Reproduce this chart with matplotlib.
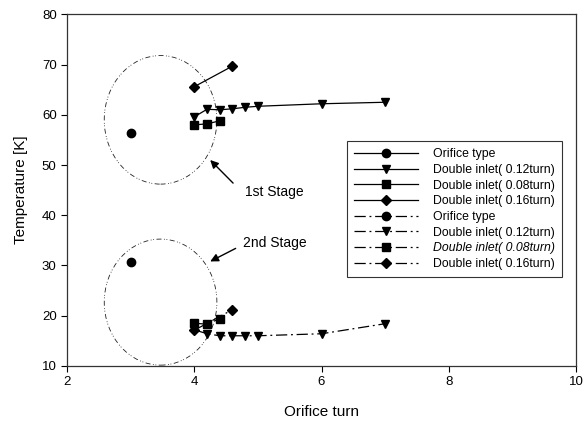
import matplotlib
matplotlib.use("Agg")
import matplotlib.pyplot as plt
from matplotlib.patches import Ellipse

plt.rcParams["font.family"] = ["Liberation Sans", "DejaVu Sans"]

# orifice type: single point per stage
orifice_x = [3.0]
orifice_1st = [56.3]
orifice_2nd = [30.7]

# double inlet 0.12 turn
di012_x = [4.0, 4.2, 4.4, 4.6, 4.8, 5.0, 6.0, 7.0]
di012_1st = [59.6, 61.1, 61.0, 61.2, 61.5, 61.7, 62.2, 62.5]
di012_2nd = [17.2, 16.4, 16.0, 16.0, 16.0, 16.0, 16.4, 18.4]

# double inlet 0.08 turn
di008_x = [4.0, 4.2, 4.4]
di008_1st = [58.0, 58.2, 58.8]
di008_2nd = [18.5, 18.3, 19.4]

# double inlet 0.16 turn
di016_x = [4.0, 4.6]
di016_1st = [65.6, 69.7]
di016_2nd = [17.1, 21.2]

labels = ["Orifice type", "Double inlet( 0.12turn)", "Double inlet( 0.08turn)",
          "Double inlet( 0.16turn)"]

fig = plt.figure(figsize=(5.83, 4.23), dpi=100)
ax = fig.add_axes([0.115, 0.135, 0.873, 0.831])

dashdot = (0, (9, 3, 1.5, 3))
series = [
    (orifice_x, orifice_1st, orifice_2nd, "o", 6),
    (di012_x, di012_1st, di012_2nd, "v", 5.5),
    (di008_x, di008_1st, di008_2nd, "s", 5.5),
    (di016_x, di016_1st, di016_2nd, "D", 5),
]
for (x, y1, _, m, ms), lab in zip(series, labels):
    ax.plot(x, y1, color="black", lw=0.9, ls="-", marker=m, ms=ms, label=lab)
for (x, _, y2, m, ms), lab in zip(series, labels):
    ax.plot(x, y2, color="black", lw=0.9, ls=dashdot, marker=m, ms=ms, label=lab)

# stage outlines
dashdotdot = (0, (6, 3, 1, 2, 1, 3))
for cy, h in [(59.0, 25.6), (22.7, 25.1)]:
    ax.add_patch(Ellipse((3.47, cy), 1.77, h, fill=False, ec="#222222",
                         lw=0.6, ls=dashdotdot))

arrow = dict(arrowstyle="-|>", color="black", lw=1.0, mutation_scale=12,
             shrinkA=0, shrinkB=0)
ax.annotate("", xy=(4.25, 51.0), xytext=(4.61, 46.4), arrowprops=arrow)
ax.text(4.80, 44.6, "1st Stage", fontsize=10, va="center", ha="left")
ax.annotate("", xy=(4.25, 30.8), xytext=(4.65, 33.4), arrowprops=arrow)
ax.text(4.77, 34.5, "2nd Stage", fontsize=10, va="center", ha="left")

ax.set_xlim(2, 10)
ax.set_ylim(10, 80)
ax.set_xticks([2, 4, 6, 8, 10])
ax.set_yticks([10, 20, 30, 40, 50, 60, 70, 80])
ax.tick_params(direction="out", length=4, width=0.8, labelsize=9.5,
               top=False, right=False)
for s in ax.spines.values():
    s.set_linewidth(0.9)
    s.set_color("#333333")
ax.set_xlabel("Orifice turn", fontsize=11, labelpad=12)
ax.set_ylabel("Temperature [K]", fontsize=11, labelpad=10)

leg = ax.legend(loc="upper left", bbox_to_anchor=(0.55, 0.64), fontsize=8.8,
                frameon=True, fancybox=False, edgecolor="black",
                handlelength=5.2, handletextpad=1.2, labelspacing=0.3,
                borderpad=0.6, borderaxespad=0)
leg.get_frame().set_linewidth(0.8)
leg.get_texts()[6].set_style("italic")

fig.savefig("out.png", dpi=100)
